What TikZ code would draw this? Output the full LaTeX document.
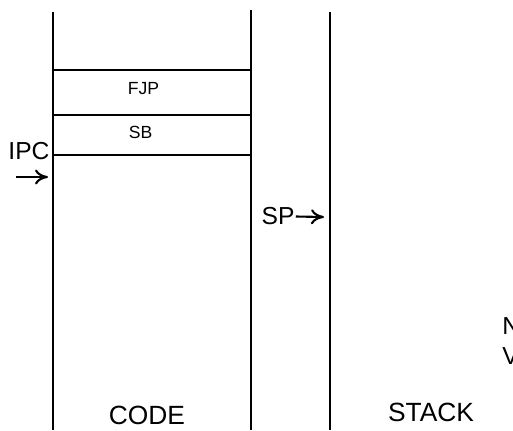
\documentclass[tikz,border=0pt]{standalone}
\usepackage{fontspec}
\setmainfont{Liberation Sans}
\usepackage{tikz}
\usetikzlibrary{arrows.meta}
\tikzset{
  wall/.style  ={line width=1.4pt, line cap=butt},
  cell/.style  ={line width=1.4pt},
  lbl/.style   ={inner sep=0pt, font=\fontsize{14}{16}\selectfont},
  big/.style   ={inner sep=0pt, font=\fontsize{15}{17}\selectfont},
  small/.style ={inner sep=0pt, font=\fontsize{10}{12}\selectfont},
  arr/.style   ={-{To[length=2.6mm,width=3mm]}, line width=1.2pt},
}

\begin{document}
\begin{tikzpicture}[x=0.02cm, y=-0.02cm]
  \useasboundingbox (0,0) rectangle (513,430);

  % Column walls
  \coordinate (cl) at (53,12);   \coordinate (clb) at (53,430);
  \coordinate (cr) at (251,10);  \coordinate (crb) at (251,430);
  \coordinate (sl) at (330,12);  \coordinate (slb) at (330,430);
  \draw[wall] (cl) -- (clb);
  \draw[wall] (cr) -- (crb);
  \draw[wall] (sl) -- (slb);

  % Code cells
  \draw[cell] (53,70)  -- (251,70);
  \draw[cell] (53,115) -- (251,115);
  \draw[cell] (53,155) -- (251,155);
  \node[small] (fjp) at (143.5,89)  {FJP};
  \node[small] (sb)  at (140.5,132) {SB};

  % Pointers
  \node[lbl] (ipc) at (29,151.5) {IPC};
  \coordinate (ipcs) at (16,177);
  \coordinate (ipct) at (48,177);
  \draw[arr] (ipcs) -- (ipct);

  \node[lbl] (sp) at (278,216.5) {SP};
  \coordinate (spt) at (324,217);
  \draw[arr] (sp.east) ++(1,0) -- (spt);

  % Column names
  \node[big] (code)  at (147,415) {CODE};
  \node[big] (stack) at (431,412) {STACK};

  % cut off at the right edge
  \node[lbl, anchor=west] (nn) at (502,326) {N};
  \node[lbl, anchor=west] (vv) at (502,356) {V};
\end{tikzpicture}
\end{document}
